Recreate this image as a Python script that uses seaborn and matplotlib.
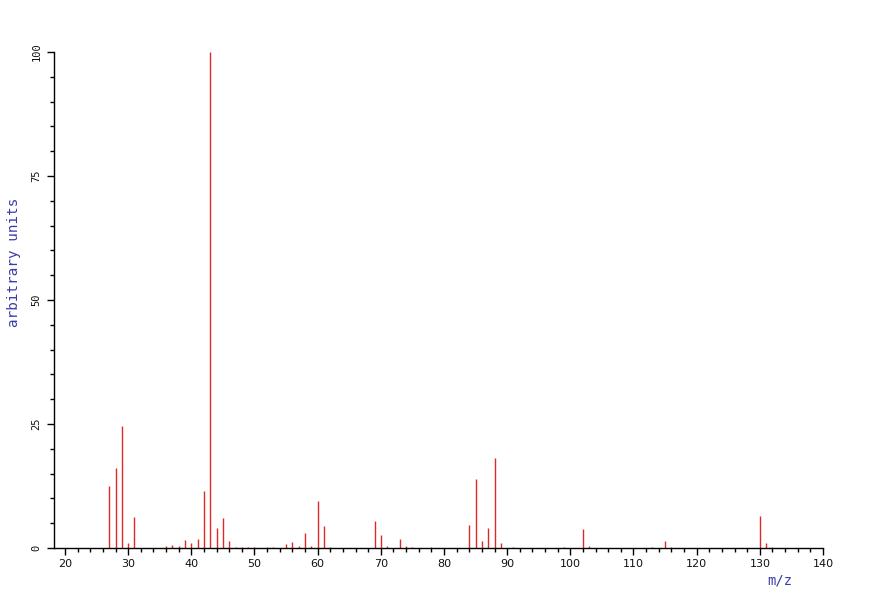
import matplotlib
matplotlib.use("Agg")
import matplotlib.pyplot as plt
from matplotlib.ticker import MultipleLocator
import seaborn as sns
import pandas as pd

mz = [27, 28, 29, 30, 31, 36, 37, 38, 39, 40, 41, 42, 43, 44, 45, 46, 47,
      48, 49, 50, 52, 53, 55, 56, 57, 58, 59, 60, 61, 62, 69, 70, 71, 73,
      74, 75, 78, 84, 85, 86, 87, 88, 89, 91, 99, 102, 103, 113, 115, 116,
      130, 131, 132]
intensity = [12.5, 16.2, 24.5, 1.1, 6.3, 0.4, 0.6, 0.5, 1.6, 1.1, 1.9, 11.4,
             100, 4.1, 6.1, 1.4, 0.3, 0.3, 0.3, 0.2, 0.3, 0.3, 0.9, 1.2, 0.4,
             3.0, 0.5, 9.5, 4.5, 0.3, 5.4, 2.7, 0.5, 1.8, 0.4, 0.3, 0.3, 4.6,
             13.9, 1.4, 4.0, 18.2, 1.0, 0.3, 0.2, 3.8, 0.5, 0.3, 1.5, 0.3,
             6.4, 1.0, 0.3]
x_ticks = [20, 30, 40, 50, 60, 70, 80, 90, 100, 110, 120, 130, 140]
y_ticks = [0, 25, 50, 75, 100]

df = pd.DataFrame({"mz": mz, "intensity": intensity})

sns.set_style("white")
plt.rcParams["font.family"] = ["DejaVu Sans Mono", "DejaVu Sans"]

fig = plt.figure(figsize=(8.72, 5.91), dpi=100)
ax = fig.add_axes([54 / 872, 1 - 548 / 591, (823 - 54) / 872, (548 - 52) / 591])

ax.vlines(df["mz"], 0, df["intensity"], color="#e02828", linewidth=1.0)

ax.set_xlim(18.26, 140)
ax.set_ylim(0, 100)
ax.set_xticks(x_ticks)
ax.set_xticklabels([str(v) for v in x_ticks], family=["DejaVu Sans"], fontsize=8)
ax.xaxis.set_minor_locator(MultipleLocator(2))
ax.set_yticks(y_ticks)
ax.yaxis.set_minor_locator(MultipleLocator(5))
ax.set_yticklabels([str(v) for v in y_ticks], rotation=90, va="center",
                   fontsize=7.5)

ax.tick_params(axis="both", which="major", direction="out", length=5,
               width=1, color="black", labelcolor="#111111", pad=3,
               bottom=True, left=True)
ax.tick_params(axis="y", which="major", pad=4)
ax.tick_params(axis="both", which="minor", direction="out", length=3,
               width=1, color="black", bottom=True, left=True)

sns.despine(ax=ax, top=True, right=True)
for s in ["left", "bottom"]:
    ax.spines[s].set_color("black")
    ax.spines[s].set_linewidth(1)

fig.text(14 / 872, 1 - 262 / 591, "arbitrary units", rotation=90,
         color="#3a3aa8", fontsize=10.3, ha="center", va="center")
fig.text(780 / 872, 1 - 588 / 591, "m/z", color="#3a3aa8", fontsize=10,
         ha="center", va="bottom")

fig.savefig("out.png", dpi=100)
